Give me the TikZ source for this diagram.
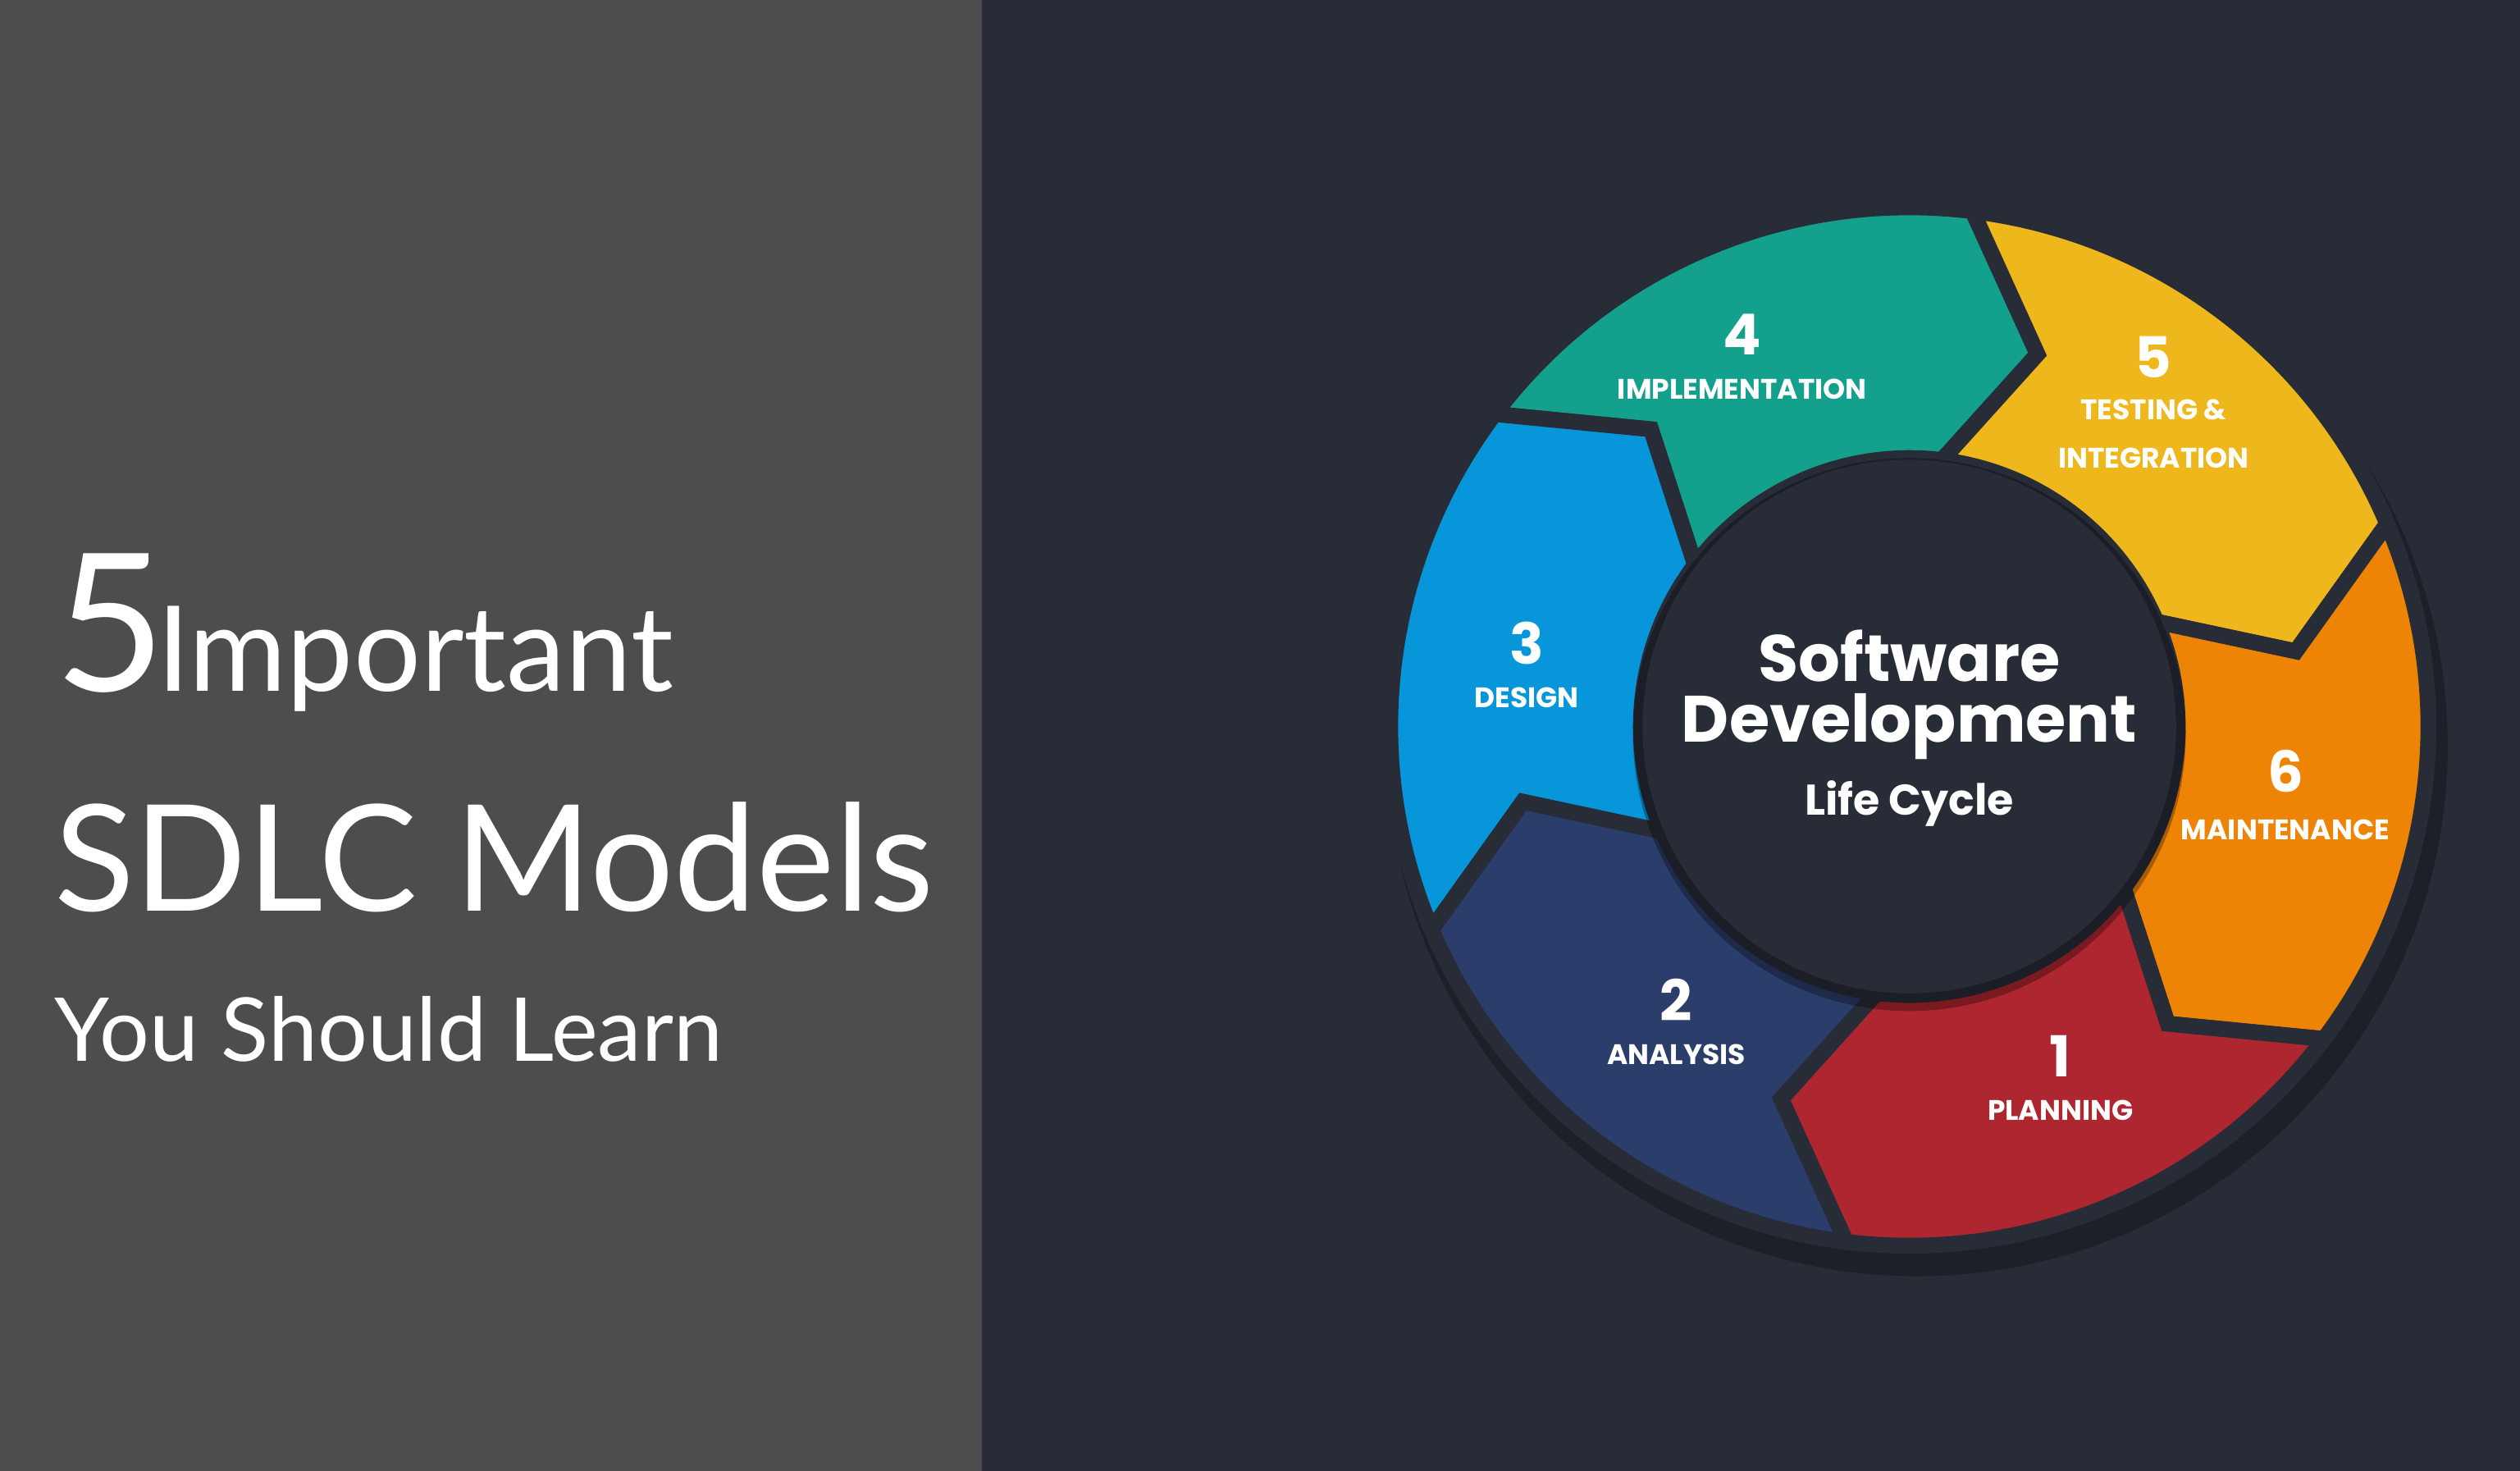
\documentclass[tikz,border=0pt]{standalone}
\usepackage{fontspec}
\usetikzlibrary{calc}
\setmainfont{Lato}
\newfontfamily\pop{Poppins}
\definecolor{lgray}{HTML}{4D4D4D}
\definecolor{dbg}{HTML}{272C37}
\definecolor{cteal}{HTML}{13A08C}
\definecolor{cyel}{HTML}{EEB71B}
\definecolor{corg}{HTML}{EE8406}
\definecolor{cred}{HTML}{AE262F}
\definecolor{cnavy}{HTML}{2B3D6B}
\definecolor{cblue}{HTML}{0696D9}
\tikzset{
  seg/.style={fill=#1, draw=dbg, line width=2.8pt, line join=miter},
  num/.style={text=white, font=\pop\bfseries\fontsize{10}{12}\selectfont, inner sep=0pt},
  lab/.style={text=white, font=\pop\bfseries\fontsize{5}{8.6}\selectfont, inner sep=0pt, align=center},
  big/.style={text=white, inner sep=0pt, anchor=base west}
}
\begin{document}
\begin{tikzpicture}
\useasboundingbox (0,0) rectangle (15.68,9.15);
\fill[lgray] (0,0) rectangle (6.11,9.15);
\fill[dbg] (6.11,0) rectangle (15.68,9.15);
% left text
\node[big, font=\fontsize{34}{40}\selectfont] (five) at (0.33,4.85) {5};
\node[big, font=\fontsize{21}{24}\selectfont] (imp) at (0.97,4.85) {Important};
\node[big, font=\fontsize{26.2}{34}\selectfont] (sdlc) at (0.33,3.48) {SDLC Models};
\node[big, font=\fontsize{15.6}{22}\selectfont] (you) at (0.33,2.55) {You Should Learn};
% wheel
\coordinate (c) at (11.88,4.63);
\fill[black, opacity=0.25] ($(c)+(0.05,-0.12)$) circle (3.3);
\def\Ro{3.23}\def\Ri{1.67}\def\Rm{2.45}
\foreach \a/\col in {143/cteal, 83/cyel, 23/corg, -37/cred, -97/cnavy, -157/cblue}{
  \pgfmathsetmacro{\b}{\a-60}
  \filldraw[seg=\col] ($(c)+(\a:\Ro)$) arc[start angle=\a, end angle=\b, radius=\Ro]
    -- ($(c)+(\b-12:\Rm)$) -- ($(c)+(\b:\Ri)$)
    arc[start angle=\b, end angle=\a, radius=\Ri]
    -- ($(c)+(\a-12:\Rm)$) -- cycle;
}
\fill[black, opacity=0.3] ($(c)+(0,-0.05)$) circle (1.72);
\fill[dbg] (c) circle (1.66);
\node[text=white, font=\pop\bfseries\fontsize{11.6}{14}\selectfont, inner sep=0pt] (sw) at (11.88,5.07) {Software};
\node[text=white, font=\pop\bfseries\fontsize{11.6}{14}\selectfont, inner sep=0pt] (dev) at (11.88,4.63) {Development};
\node[text=white, font=\pop\bfseries\fontsize{7.6}{10}\selectfont, inner sep=0pt] (lc) at (11.88,4.15) {Life Cycle};
% labels
\node[num] (n4) at (10.84,7.07) {4};
\node[lab] (l4) at (10.84,6.73) {IMPLEMENTATION};
\node[num] (n5) at (13.40,6.93) {5};
\node[lab] (l5) at (13.40,6.45) {TESTING \&\\INTEGRATION};
\node[num] (n3) at (9.50,5.15) {3};
\node[lab] (l3) at (9.50,4.81) {DESIGN};
\node[num] (n6) at (14.22,4.35) {6};
\node[lab] (l6) at (14.22,3.99) {MAINTENANCE};
\node[num] (n2) at (10.43,2.93) {2};
\node[lab] (l2) at (10.43,2.59) {ANALYSIS};
\node[num] (n1) at (12.82,2.58) {1};
\node[lab] (l1) at (12.82,2.24) {PLANNING};
\end{tikzpicture}
\end{document}
